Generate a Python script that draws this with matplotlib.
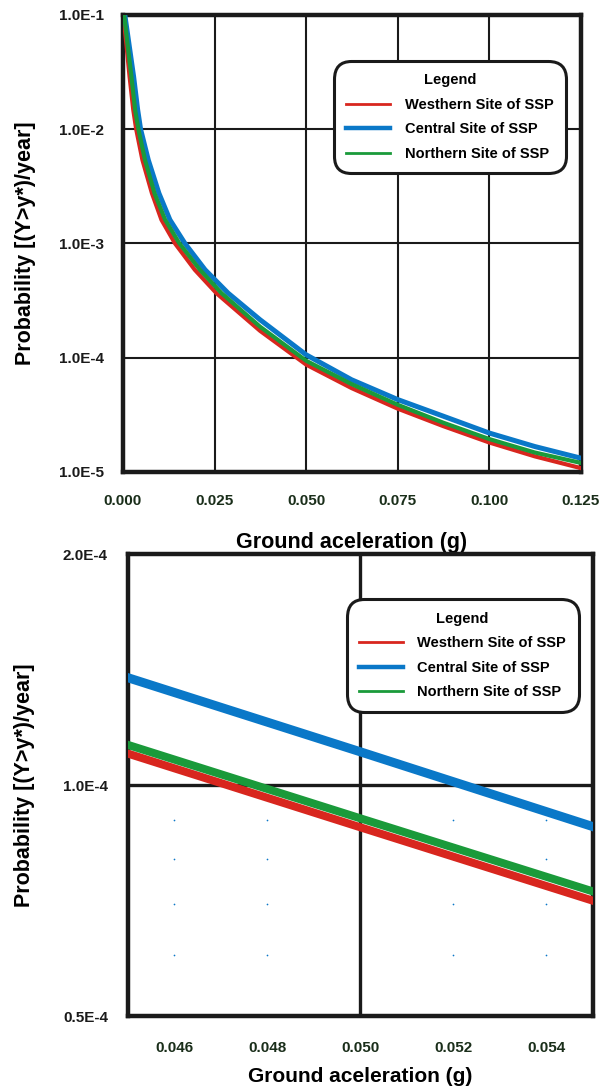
import numpy as np
from matplotlib import pyplot as plt
from matplotlib.lines import Line2D
from matplotlib.ticker import NullLocator

# Hazard curves (x in g, y in 1/year)
west_x = [0.0001, 0.0009, 0.0018, 0.0028, 0.0036, 0.0053, 0.0079, 0.0105, 0.0142, 0.0196,
          0.0255, 0.0374, 0.0500, 0.0624, 0.0750, 0.0874, 0.1000, 0.1124, 0.1250]
west_y = [1.0e-1, 5.65e-2, 2.88e-2, 1.48e-2, 1.0e-2, 5.38e-3, 2.75e-3, 1.61e-3, 1.0e-3, 5.88e-4,
          3.67e-4, 1.72e-4, 8.7e-5, 5.42e-5, 3.58e-5, 2.52e-5, 1.81e-5, 1.37e-5, 1.08e-5]

central_x = [0.0005, 0.0016, 0.0029, 0.0040, 0.0048, 0.0069, 0.0098, 0.0128, 0.0169, 0.0224,
             0.0287, 0.0374, 0.0500, 0.0624, 0.0750, 0.0874, 0.1000, 0.1124, 0.1250]
central_y = [1.0e-1, 5.65e-2, 2.88e-2, 1.48e-2, 1.0e-2, 5.38e-3, 2.75e-3, 1.61e-3, 1.0e-3, 5.88e-4,
             3.67e-4, 2.15e-4, 1.06e-4, 6.41e-5, 4.3e-5, 3.08e-5, 2.19e-5, 1.67e-5, 1.32e-5]

north_x = [0.0003, 0.0012, 0.0023, 0.0033, 0.0042, 0.0060, 0.0086, 0.0115, 0.0154, 0.0210,
           0.0269, 0.0374, 0.0500, 0.0624, 0.0750, 0.0874, 0.1000, 0.1124, 0.1250]
north_y = [1.0e-1, 5.65e-2, 2.88e-2, 1.48e-2, 1.0e-2, 5.38e-3, 2.75e-3, 1.61e-3, 1.0e-3, 5.88e-4,
           3.67e-4, 1.87e-4, 9.4e-5, 5.87e-5, 3.87e-5, 2.7e-5, 1.94e-5, 1.48e-5, 1.2e-5]

# Zoomed window around 0.05 g
zoom_x = [0.045, 0.050, 0.055]
zoom_west = [1.099e-4, 0.881e-4, 0.707e-4]
zoom_central = [1.38e-4, 1.105e-4, 0.883e-4]
zoom_north = [1.128e-4, 0.905e-4, 0.727e-4]

labels = ['Westhern Site of SSP', 'Central Site of SSP', 'Northern Site of SSP']

top_xticks = [0.0, 0.025, 0.05, 0.075, 0.1, 0.125]
top_xlabels = ['0.000', '0.025', '0.050', '0.075', '0.100', '0.125']
top_yticks = [1e-5, 1e-4, 1e-3, 1e-2, 1e-1]
top_ylabels = ['1.0E-5', '1.0E-4', '1.0E-3', '1.0E-2', '1.0E-1']

bot_xticks = [0.046, 0.048, 0.050, 0.052, 0.054]
bot_xlabels = ['0.046', '0.048', '0.050', '0.052', '0.054']
bot_yticks = [0.5e-4, 1.0e-4, 2.0e-4]
bot_ylabels = ['0.5E-4', '1.0E-4', '2.0E-4']
bot_yminor = [0.6e-4, 0.7e-4, 0.8e-4, 0.9e-4]

RED = '#d8261e'
BLUE = '#0a78c8'
GREEN = '#1a9a3a'
INK = '#1a1a1a'

plt.rc('font', family='Liberation Sans', weight='bold')
plt.rc('axes', labelweight='bold')

fig = plt.figure(figsize=(6.05, 10.89), dpi=100)
ax1 = fig.add_axes([0.2033, 0.5666, 0.757, 0.4197])
ax2 = fig.add_axes([0.2116, 0.067, 0.7678, 0.4242])


def legend_box(ax, anchor):
    handles = [Line2D([], [], color=RED, lw=2.0),
               Line2D([], [], color=BLUE, lw=3.2),
               Line2D([], [], color=GREEN, lw=2.0)]
    leg = ax.legend(handles, labels, title='Legend', loc='upper right',
                    bbox_to_anchor=anchor, borderaxespad=0, fontsize=10.5,
                    title_fontsize=10.5, handlelength=3.0, handletextpad=1.0,
                    labelspacing=0.72, borderpad=0.85, framealpha=1, fancybox=True)
    leg.get_title().set_fontweight('bold')
    frame = leg.get_frame()
    frame.set_boxstyle('round,pad=0,rounding_size=1.2')
    frame.set_edgecolor(INK)
    frame.set_linewidth(2.2)
    return leg


# ---- top panel: full hazard curves ----
ax1.set_yscale('log')
ax1.plot(west_x, west_y, color=RED, lw=3.0, label=labels[0], zorder=3)
ax1.plot(central_x, central_y, color=BLUE, lw=3.6, label=labels[1], zorder=3)
ax1.plot(north_x, north_y, color=GREEN, lw=3.0, label=labels[2], zorder=4)

ax1.set_xlim(0, 0.125)
ax1.set_ylim(1e-5, 1e-1)
ax1.set_xticks(top_xticks, top_xlabels)
ax1.set_yticks(top_yticks, top_ylabels)
ax1.yaxis.set_minor_locator(NullLocator())
ax1.tick_params(axis='x', length=0, pad=16, labelsize=11, labelcolor='#1a2e1a')
ax1.tick_params(axis='y', length=0, pad=13.5, labelsize=11, labelcolor=INK)
ax1.grid(True, color=INK, lw=1.5, zorder=1)
for s in ax1.spines.values():
    s.set_linewidth(3.2)
    s.set_color(INK)
ax1.set_xlabel('Ground aceleration (g)', fontsize=15.5)
ax1.xaxis.set_label_coords(0.5, -0.131)
ax1.set_ylabel('Probability [(Y>y*)/year]', fontsize=15.5)
ax1.yaxis.set_label_coords(-0.19, 0.5)
legend_box(ax1, (0.967, 0.899))

# ---- bottom panel: zoom around 0.05 g ----
ax2.set_yscale('log')
ax2.set_xlim(0.045, 0.055)
ax2.set_ylim(0.5e-4, 2.0e-4)
ax2.set_xticks(bot_xticks, bot_xlabels)
ax2.set_yticks(bot_yticks, bot_ylabels)
ax2.yaxis.set_minor_locator(NullLocator())

# faint dotted minor grid (dots at the tick crossings)
gx, gy = np.meshgrid([t for t in bot_xticks if t != 0.050], bot_yminor)
ax2.scatter(gx.ravel(), gy.ravel(), s=1.5, color=BLUE, lw=0, zorder=1)

ax2.axhline(1.0e-4, color=INK, lw=2.4, zorder=2)
ax2.axvline(0.050, color=INK, lw=2.4, zorder=2)

ax2.plot(zoom_x, zoom_west, color=RED, lw=5.8, zorder=3)
ax2.plot(zoom_x, zoom_central, color=BLUE, lw=6.5, zorder=3)
ax2.plot(zoom_x, zoom_north, color=GREEN, lw=5.8, zorder=4)

ax2.tick_params(axis='x', length=0, pad=18, labelsize=11, labelcolor='#1a2e1a')
ax2.tick_params(axis='y', length=0, pad=14.5, labelsize=11, labelcolor=INK)
for s in ax2.spines.values():
    s.set_linewidth(3.2)
    s.set_color(INK)
ax2.set_xlabel('Ground aceleration (g)', fontsize=15)
ax2.xaxis.set_label_coords(0.5, -0.110)
ax2.set_ylabel('Probability [(Y>y*)/year]', fontsize=15.5)
ax2.yaxis.set_label_coords(-0.2, 0.5)
legend_box(ax2, (0.970, 0.902))

plt.savefig('out.png', dpi=100)
